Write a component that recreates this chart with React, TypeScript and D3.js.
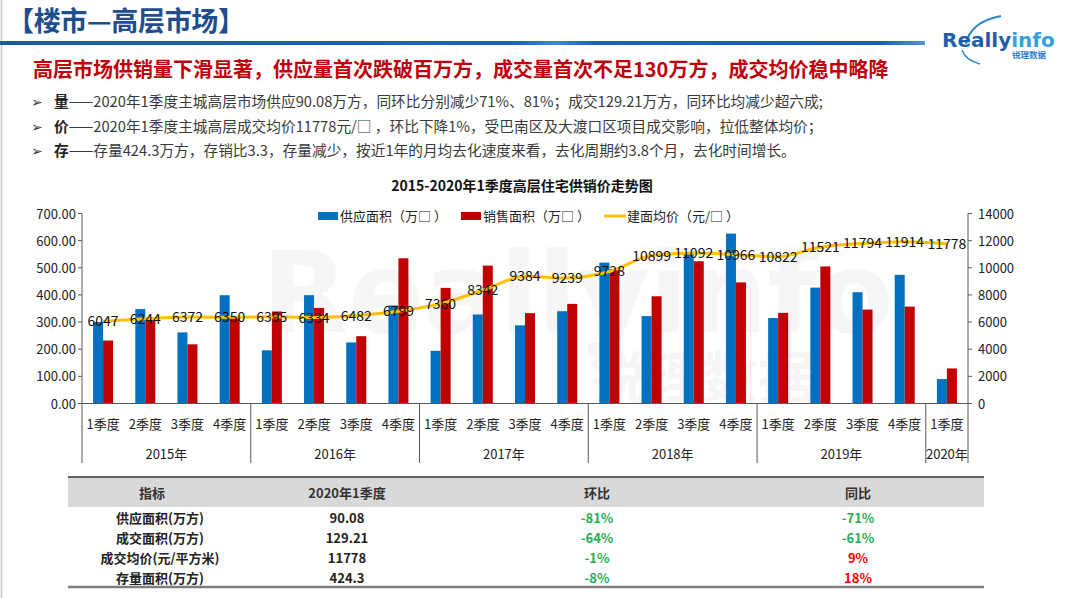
import React from "react";
import * as d3 from "d3";

const quarters = ["1季度","2季度","3季度","4季度","1季度","2季度","3季度","4季度","1季度","2季度","3季度","4季度","1季度","2季度","3季度","4季度","1季度","2季度","3季度","4季度","1季度"];
const years = ["2015年","2016年","2017年","2018年","2019年","2020年"];
const yearSpans = [4, 4, 4, 4, 4, 1];
const supply = [300, 348, 262, 399, 196, 399, 225, 361, 194, 328, 288, 340, 519, 322, 553, 626, 315, 427, 410, 474, 90.08];
const sales = [232, 305, 218, 320, 339, 352, 248, 535, 426, 508, 333, 367, 495, 395, 524, 446, 334, 505, 346, 357, 129.21];
const price = [6047, 6244, 6372, 6350, 6395, 6334, 6482, 6799, 7360, 8342, 9384, 9239, 9728, 10899, 11092, 10966, 10822, 11521, 11794, 11914, 11778];
const leftTicks = [0, 100, 200, 300, 400, 500, 600, 700];
const rightTicks = [0, 2000, 4000, 6000, 8000, 10000, 12000, 14000];

const legendLabels = ["供应面积（万□ ）", "销售面积（万□ ）", "建面均价（元/□ ）"];

const tableHead = ["指标", "2020年1季度", "环比", "同比"];
const indicators = ["供应面积(万方)", "成交面积(万方)", "成交均价(元/平方米)", "存量面积(万方)"];
const tableValues = ["90.08", "129.21", "11778", "424.3"];
const qoq = ["-81%", "-64%", "-1%", "-8%"];
const yoy = ["-71%", "-61%", "9%", "18%"];

const bullets = [
  ["量", "——2020年1季度主城高层市场供应90.08万方，同环比分别减少71%、81%；成交129.21万方，同环比均减少超六成;"],
  ["价", "——2020年1季度主城高层成交均价11778元/□ ，环比下降1%，受巴南区及大渡口区项目成交影响，拉低整体均价；"],
  ["存", "——存量424.3万方，存销比3.3，存量减少，按近1年的月均去化速度来看，去化周期约3.8个月，去化时间增长。"],
];

const BLUE = "#0070C0";
const RED = "#C00000";
const YEL = "#FFC000";
const CJK = "'Noto Sans CJK SC', 'Noto Sans', sans-serif";

export default function App() {
  const W = 1068, H = 598;
  const x0 = 82, x1 = 968, yTop = 213.5, yBot = 403.5;
  const idx = quarters.map((_, i) => i);
  const x = d3.scaleBand<number>().domain(idx).range([x0, x1]).padding(0);
  const yL = d3.scaleLinear().domain([0, 700]).range([yBot, yTop]);
  const yR = d3.scaleLinear().domain([0, 14000]).range([yBot, yTop]);
  const cx = (i: number) => (x(i) as number) + x.bandwidth() / 2;
  const bw = 10;
  const line = d3.line<number>().x((_, i) => cx(i)).y((d) => yR(d)).curve(d3.curveMonotoneX);

  const bounds: number[] = [];
  let acc = 0;
  const yearCenters: number[] = [];
  yearSpans.forEach((s) => {
    const start = acc;
    acc += s;
    bounds.push(acc);
    yearCenters.push(((x(start) as number) + (x(acc - 1) as number) + x.bandwidth()) / 2);
  });

  const rowY = [518, 538, 558, 578];
  const colX = [160, 347, 597, 858];

  return (
    <svg width={W} height={H} style={{ position: "absolute", left: 0, top: 0, background: "#fff" }} fontFamily={CJK}>
      <defs>
        <linearGradient id="hbar" x1="0" x2="1" y1="0" y2="0">
          <stop offset="0" stopColor="#1B59A8" />
          <stop offset="0.56" stopColor="#1E63B8" />
          <stop offset="0.6" stopColor="#3D8AD8" />
          <stop offset="0.64" stopColor="#1E63B8" />
          <stop offset="0.95" stopColor="#1B5BB0" />
          <stop offset="1" stopColor="#4C96DE" />
        </linearGradient>
      </defs>
      <rect x={0} y={0} width={W} height={H} fill="#fff" />
      <line x1={1.5} y1={0} x2={1.5} y2={H} stroke="#c8c8c8" strokeWidth={1.5} />

      {/* header */}
      <text x={7} y={31} fontSize={27} fontWeight={700} fill="#1F4E8F" textLength={238} lengthAdjust="spacing">【楼市—高层市场】</text>
      <rect x={0} y={41} width={925} height={4} fill="url(#hbar)" />

      {/* logo */}
      <path d="M966 44 Q970 22 1001 16" fill="none" stroke="#2E86D0" strokeWidth={2} />
      <path d="M962 50 Q965 60 980 64" fill="none" stroke="#2E86D0" strokeWidth={1.5} />
      <text x={942} y={47} fontFamily="'DejaVu Sans', sans-serif" fontSize={20} fontWeight={700}>
        <tspan fill="#1F5FA8">Really</tspan>
        <tspan fill="#35A0DC">info</tspan>
      </text>
      <text x={1012} y={58} fontSize={8.5} fill="#2F7FC8" fontWeight={700}>锐理数据</text>

      {/* subtitle */}
      <text x={33} y={77} fontSize={20} fontWeight={700} fill="#C0000A">高层市场供销量下滑显著，供应量首次跌破百万方，成交量首次不足130万方，成交均价稳中略降</text>

      {/* bullets */}
      {bullets.map((b, i) => (
        <g key={i}>
          <text x={31} y={107 + i * 24.5} fontSize={14} fill="#404040" fontFamily="'DejaVu Sans', sans-serif">➢</text>
          <text x={54} y={107 + i * 24.5} fontSize={14.7} fill="#3a3a3a">
            <tspan fontWeight={700} fill="#222">{b[0]}</tspan>
            <tspan>{b[1]}</tspan>
          </text>
        </g>
      ))}

      {/* watermark */}
      <g opacity={0.03}>
        <text x={262} y={332} fontFamily="'DejaVu Sans', sans-serif" fontSize={112} fontWeight={700} fill="#000">Reallyinfo</text>
        <text x={590} y={398} fontSize={56} fontWeight={700} fill="#000">锐理数据</text>
      </g>

      {/* chart title */}
      <text x={522} y={191} textAnchor="middle" fontSize={14} fontWeight={700} fill="#111">2015-2020年1季度高层住宅供销价走势图</text>

      {/* legend */}
      <rect x={318} y={212} width={20} height={8} fill={BLUE} />
      <text x={340} y={221} fontSize={13} fill="#222">{legendLabels[0]}</text>
      <rect x={461} y={212} width={20} height={8} fill={RED} />
      <text x={483} y={221} fontSize={13} fill="#222">{legendLabels[1]}</text>
      <line x1={604} x2={626} y1={216} y2={216} stroke={YEL} strokeWidth={3} />
      <text x={627} y={221} fontSize={13} fill="#222">{legendLabels[2]}</text>

      {/* bars */}
      {supply.map((v, i) => (
        <rect key={"s" + i} x={cx(i) - bw} y={yL(v)} width={bw} height={yBot - yL(v)} fill={BLUE} />
      ))}
      {sales.map((v, i) => (
        <rect key={"r" + i} x={cx(i)} y={yL(v)} width={bw} height={yBot - yL(v)} fill={RED} />
      ))}

      {/* price line */}
      <path d={line(price) || ""} fill="none" stroke={YEL} strokeWidth={3} strokeLinejoin="round" />
      {price.map((v, i) => (
        <text key={"p" + i} x={cx(i)} y={yR(v) + 5} textAnchor="middle" fontSize={14} fill="#111">{v}</text>
      ))}

      {/* axes */}
      <g stroke="#595959" strokeWidth={1}>
        <line x1={x0} x2={x0} y1={yTop} y2={463} />
        <line x1={x1} x2={x1} y1={yTop} y2={463} />
        <line x1={x0} x2={x1} y1={yBot} y2={yBot} />
        {leftTicks.map((t) => (
          <line key={"lt" + t} x1={x0 - 4} x2={x0} y1={yL(t)} y2={yL(t)} />
        ))}
        {rightTicks.map((t) => (
          <line key={"rt" + t} x1={x1} x2={x1 + 4} y1={yR(t)} y2={yR(t)} />
        ))}
        {bounds.slice(0, -1).map((b) => (
          <line key={"b" + b} x1={x(b) as number} x2={x(b) as number} y1={yBot} y2={463} />
        ))}
      </g>
      {leftTicks.map((t) => (
        <text key={"ll" + t} x={x0 - 6} y={yL(t) + 5} textAnchor="end" fontSize={13} fill="#222">{d3.format(".2f")(t)}</text>
      ))}
      {rightTicks.map((t) => (
        <text key={"rl" + t} x={x1 + 10} y={yR(t) + 5} fontSize={13} fill="#222">{t}</text>
      ))}
      {quarters.map((q, i) => (
        <text key={"q" + i} x={cx(i)} y={429} textAnchor="middle" fontSize={13} fill="#222">{q}</text>
      ))}
      {years.map((yv, i) => (
        <text key={"y" + i} x={yearCenters[i]} y={459} textAnchor="middle" fontSize={13} fill="#222">{yv}</text>
      ))}

      {/* table */}
      <rect x={68} y={477} width={916} height={30} fill="#D9D9D9" />
      <line x1={68} x2={984} y1={477} y2={477} stroke="#333" strokeWidth={1.5} />
      <line x1={68} x2={984} y1={587} y2={587} stroke="#7f7f7f" strokeWidth={2.5} />
      {tableHead.map((h, i) => (
        <text key={"h" + i} x={i === 0 ? 152 : colX[i]} y={498} textAnchor="middle" fontSize={13} fontWeight={700} fill="#333">{h}</text>
      ))}
      {indicators.map((t, i) => (
        <g key={"row" + i}>
          <text x={colX[0]} y={rowY[i] + 5} textAnchor="middle" fontSize={13} fontWeight={700} fill="#222">{t}</text>
          <text x={colX[1]} y={rowY[i] + 5} textAnchor="middle" fontSize={13} fontWeight={700} fill="#222">{tableValues[i]}</text>
          <text x={colX[2]} y={rowY[i] + 5} textAnchor="middle" fontSize={13} fontWeight={700} fill={qoq[i].startsWith("-") ? "#1FAF55" : "#FF0000"}>{qoq[i]}</text>
          <text x={colX[3]} y={rowY[i] + 5} textAnchor="middle" fontSize={13} fontWeight={700} fill={yoy[i].startsWith("-") ? "#1FAF55" : "#FF0000"}>{yoy[i]}</text>
        </g>
      ))}
    </svg>
  );
}
